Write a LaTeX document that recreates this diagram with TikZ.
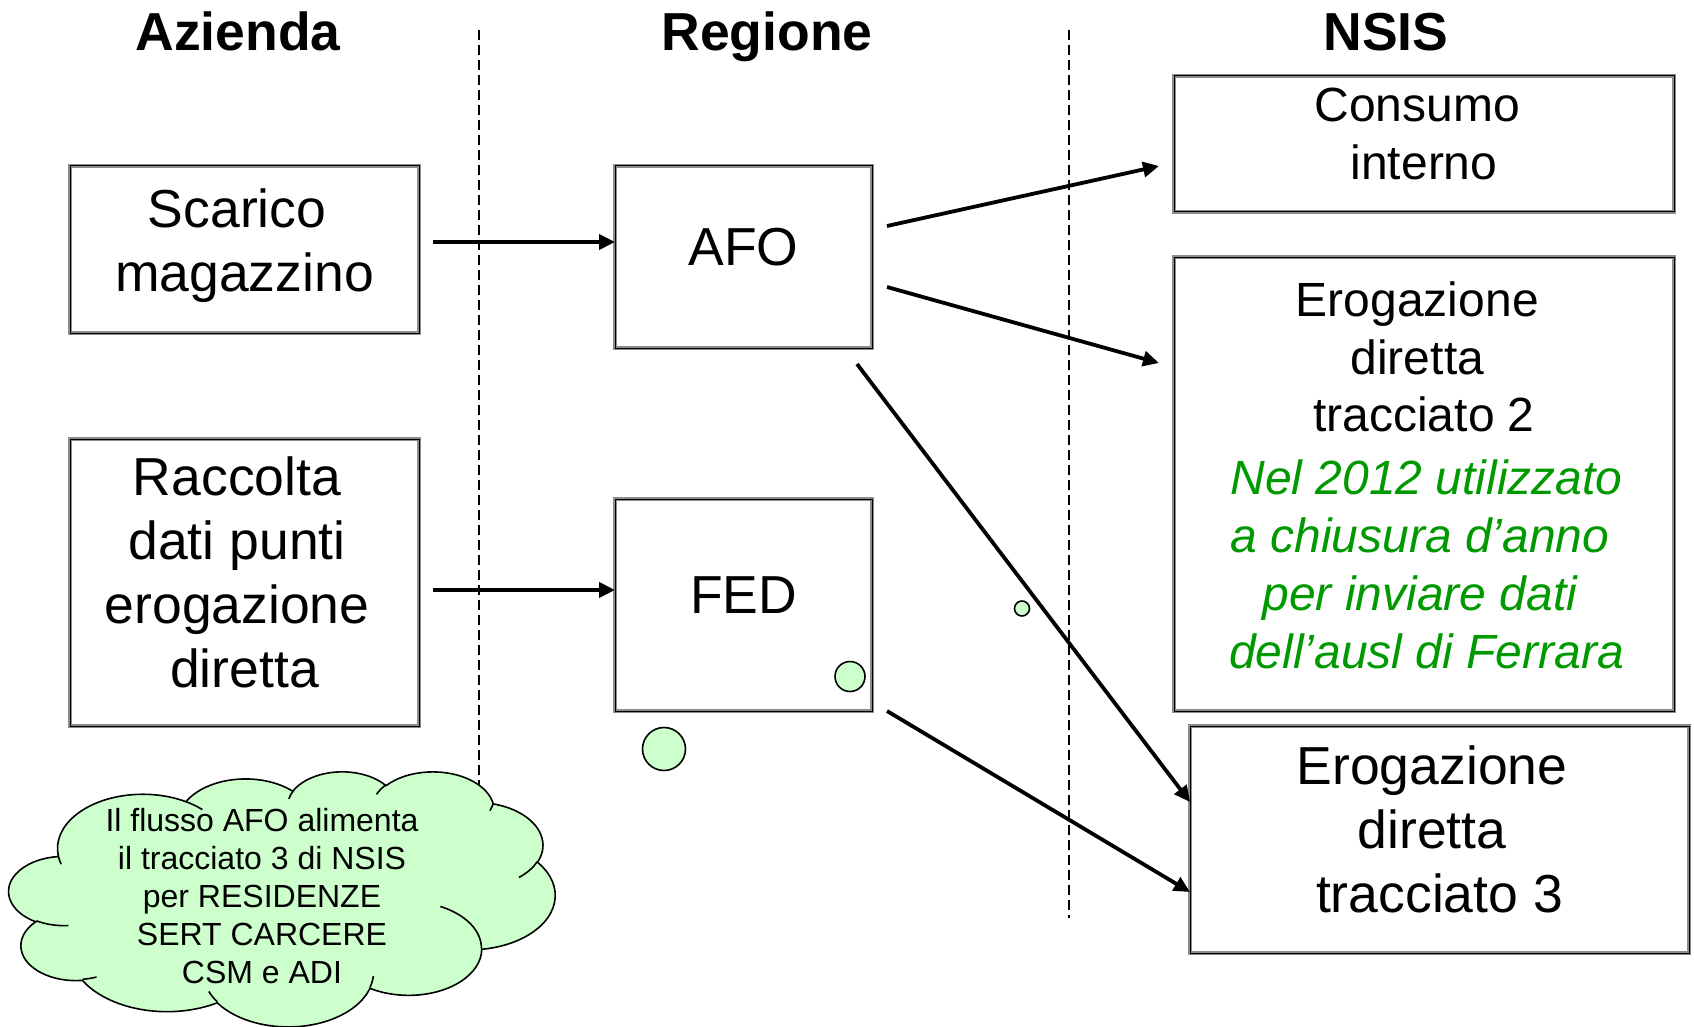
\documentclass[tikz,border=0pt]{standalone}
\usepackage{fontspec}
\setmainfont{Liberation Sans}
\usetikzlibrary{arrows.meta}
\definecolor{cloudgreen}{HTML}{CCFFCC}
\definecolor{notegreen}{HTML}{009900}
% trailing space kept as in the original slide text
\newcommand\tsp{\kern0.278em}
% DrawingML-style elliptical arc: wR, hR, start angle, sweep (visual angles)
\newcommand\ooarc[4]{arc[x radius=#1, y radius=#2,
  start angle={atan2(#1*sin(#3),#2*cos(#3))},
  delta angle={mod(atan2(#1*sin(#3+#4),#2*cos(#3+#4))-atan2(#1*sin(#3),#2*cos(#3))+720,360)}]}
\begin{document}
\begin{tikzpicture}[x=1pt,y=-1pt,
  box/.style={draw=black!45, line width=3.4pt, inner sep=0pt, outer sep=0pt,
    postaction={draw=black, line width=1pt}},
  big/.style={font=\fontsize{53.5}{64}\selectfont, align=center, inner sep=0pt, anchor=north},
  mid/.style={font=\fontsize{48}{57.5}\selectfont, align=center, inner sep=0pt, anchor=north},
  note/.style={font=\itshape\fontsize{48}{58}\selectfont, text=notegreen, align=center, inner sep=0pt, anchor=north},
  small/.style={font=\fontsize{32}{38}\selectfont, align=center, inner sep=0pt, anchor=north},
  head/.style={font=\bfseries\fontsize{53.5}{60}\selectfont, inner sep=0pt, anchor=base},
  arr/.style={line width=3.8pt, -{Triangle[length=16pt,width=15pt]}},
  divider/.style={line width=2.4pt, dash pattern=on 10pt off 5pt},
  cloudline/.style={draw=black, line width=1.6pt},
  bub/.style={draw=black, fill=cloudgreen, line width=1.6pt}]
\useasboundingbox[fill=white] (0,0) rectangle (1694,1027);

% column headers
\node[head] (hAz) at (238,51) {Azienda};
\node[head] (hReg) at (767,51) {Regione};
\node[head] (hNsis) at (1386,51) {NSIS};

% dividers
\draw[divider] (479,30) -- (479,918);
\draw[divider] (1069,30) -- (1069,918);

% boxes
\node[box, minimum width=349pt, minimum height=167pt] (scarico) at (244.5,249.5) {};
\node[box, minimum width=349pt, minimum height=287pt] (raccolta) at (244.5,582.5) {};
\node[box, minimum width=257pt, minimum height=182pt] (afo) at (743.5,257) {};
\node[box, minimum width=257pt, minimum height=212pt] (fed) at (743.5,605) {};
\node[box, minimum width=500pt, minimum height=136pt] (consumo) at (1424,144) {};
\node[box, minimum width=500pt, minimum height=454pt] (erog2) at (1424,484) {};
\node[box, minimum width=499pt, minimum height=227pt] (erog3) at (1439.5,839.5) {};

% box texts
\node[big] (tScarico) at (244.5,188.6) {Scarico\tsp\\magazzino};
\node[big] (tRaccolta) at (244.5,456.6) {Raccolta\tsp\\dati punti\tsp\\erogazione\tsp\\diretta};
\node[big, anchor=base] (tAfo) at (743.5,265) {AFO};
\node[big, anchor=base] (tFed) at (743.5,613) {FED};
\node[mid] (tConsumo) at (1424,88) {Consumo\tsp\\interno};
\node[mid] (tErog2) at (1424,282) {Erogazione\tsp\\diretta\tsp\\tracciato 2};
\node[note] (tNote) at (1426.5,460) {Nel 2012 utilizzato\\a chiusura d’anno\tsp\\per inviare dati\tsp\\dell’ausl di Ferrara};
\node[big] (tErog3) at (1439.5,745.6) {Erogazione\tsp\\diretta\tsp\\tracciato 3};

% connectors
\draw[arr] ([shift={(14,-7.5)}]scarico.east) -- ([shift={(0,-15)}]afo.west);
\draw[arr] ([shift={(14,7.5)}]raccolta.east) -- ([shift={(0,-15)}]fed.west);
\draw[arr] ([shift={(15,-31)}]afo.east) -- ([shift={(-15,22)}]consumo.west);
\draw[arr] ([shift={(15,30)}]afo.east) -- ([shift={(-15,-121)}]erog2.west);
\draw[arr] ([shift={(-15,16)}]afo.south east) -- ([shift={(0,-37.5)}]erog3.west);
\draw[arr] ([shift={(15,0)}]fed.south east) -- ([shift={(0,52.5)}]erog3.west);

% cloud callout (outline in 432 x 432 units)
\begin{scope}[shift={(9,771)}, x=1.2639pt, y=-0.5903pt]
  \path[cloudline, fill=cloudgreen] (39.00,143.70)
    \ooarc{67.53}{91.90}{-190.4875}{123.7805}
    \ooarc{53.33}{72.67}{-144.1024}{89.9452}
    \ooarc{43.65}{59.45}{-145.8079}{99.7230}
    \ooarc{48.57}{65.95}{-130.9861}{117.2417}
    \ooarc{53.33}{72.73}{-78.7089}{109.0269}
    \ooarc{67.75}{92.20}{-46.2673}{130.2690}
    \ooarc{57.85}{78.67}{0.6250}{114.0333}
    \ooarc{67.52}{92.15}{22.4516}{115.1726}
    \ooarc{77.20}{105.43}{66.2426}{75.7110}
    \ooarc{43.60}{59.18}{-274.9421}{146.7356}
    \ooarc{43.45}{59.45}{-246.8285}{152.5189}
    -- cycle;
  \path[cloudline]
    (46.93,261.77) \ooarc{43.45}{59.45}{86.7420}{26.4295}
    (69.28,348.99) \ooarc{43.60}{59.18}{73.6105}{11.4475}
    (164.78,390.90) \ooarc{67.52}{92.15}{137.6242}{14.0811}
    (288.27,347.51) \ooarc{67.52}{92.15}{6.4533}{15.9984}
    (341.29,229.54) \ooarc{57.85}{78.67}{-70.2924}{70.9174}
    (417.98,153.54) \ooarc{53.33}{72.73}{30.3180}{27.7515}
    (383.24,54.26) \ooarc{48.57}{65.95}{13.7443}{14.8589}
    (290.78,39.52) \ooarc{48.57}{65.95}{-149.1815}{18.1954}
    (221.41,47.20) \ooarc{43.65}{59.45}{-163.4943}{17.6864}
    (140.00,51.92) \ooarc{67.53}{91.90}{-66.7070}{12.3194}
    (41.27,157.89) \ooarc{67.53}{91.90}{157.6544}{11.8582};
\end{scope}
\node[small] (tCloud) at (262,807.8) {Il flusso AFO alimenta\\il tracciato 3 di NSIS\\per RESIDENZE\\SERT CARCERE\\CSM e ADI};

% thought bubbles
\draw[bub] (1022,608.5) circle[radius=7.5];
\draw[bub] (850,676.5) circle[radius=15];
\draw[bub] (664,749) circle[radius=21.5];
\end{tikzpicture}
\end{document}
